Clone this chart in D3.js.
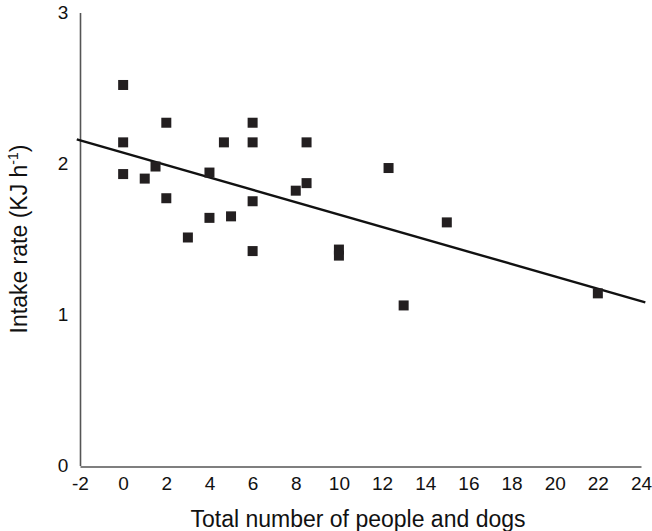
<!DOCTYPE html>
<html>
<head>
<meta charset="utf-8">
<script src="https://cdn.jsdelivr.net/npm/d3@7"></script>
<style>
  body { margin: 0; background: #fff; }
  svg { display: block; font-family: "Liberation Sans", Arial, sans-serif; }
</style>
</head>
<body>
<div id="chart"></div>
<script>
// observations
var peopleDogs = [0, 0, 0, 1, 1.5, 2, 2, 3, 4, 4, 4.67, 5, 6, 6, 6, 6, 8, 8.5, 8.5, 10, 10, 12.3, 13, 15, 22];
var intakeRate = [2.52, 2.14, 1.93, 1.90, 1.98, 2.27, 1.77, 1.51, 1.94, 1.64, 2.14, 1.65, 2.27, 2.14, 1.75, 1.42, 1.82, 1.87, 2.14, 1.43, 1.39, 1.97, 1.06, 1.61, 1.14];

// regression line end points
var fitX = [-2.15, 24.2];
var fitY = [2.16, 1.08];

var xTicks = [-2, 0, 2, 4, 6, 8, 10, 12, 14, 16, 18, 20, 22, 24];
var yTicks = [0, 1, 2, 3];

var svgWidth = 652, svgHeight = 531;
var margin = { top: 12.5, right: 11, bottom: 65.5, left: 80 };
var width = svgWidth - margin.left - margin.right;
var height = svgHeight - margin.top - margin.bottom;

var svg = d3.select("#chart").append("svg")
  .attr("width", svgWidth)
  .attr("height", svgHeight);

var chartGroup = svg.append("g")
  .attr("transform", `translate(${margin.left}, ${margin.top})`);

var x = d3.scaleLinear().domain([-2, 24]).range([0, width]);
var y = d3.scaleLinear().domain([0, 3]).range([height, 0]);

// axes (plain hyphen for negatives, integers only)
var xAxis = chartGroup.append("g")
  .attr("transform", `translate(0, ${height + 1})`)
  .call(d3.axisBottom(x).tickValues(xTicks).tickFormat(d => String(d)).tickSize(0).tickPadding(10));

var yAxis = chartGroup.append("g")
  .call(d3.axisLeft(y).tickValues(yTicks).tickFormat(d => String(d)).tickSize(0).tickPadding(8));

[xAxis, yAxis].forEach(function(a) {
  a.select(".domain").attr("stroke", "#555").attr("stroke-width", 1.6);
  a.selectAll("text").attr("font-size", 19).attr("fill", "#111")
    .attr("font-family", "'Liberation Sans', Arial, sans-serif");
});
yAxis.selectAll("text").attr("dx", "-0.2em");

// fit line
var fitLine = d3.line().x(d => x(d[0])).y(d => y(d[1]));
chartGroup.append("path")
  .datum(d3.zip(fitX, fitY))
  .attr("d", fitLine)
  .attr("fill", "none")
  .attr("stroke", "#111")
  .attr("stroke-width", 2.4);

// points
var size = 10;
chartGroup.selectAll("rect.pt")
  .data(d3.zip(peopleDogs, intakeRate))
  .enter().append("rect")
  .attr("class", "pt")
  .attr("x", d => x(d[0]) - size / 2)
  .attr("y", d => y(d[1]) - size / 2)
  .attr("width", size)
  .attr("height", size)
  .attr("fill", "#231f20");

// axis titles
svg.append("text")
  .attr("x", 358)
  .attr("y", 527)
  .attr("text-anchor", "middle")
  .attr("font-size", 23)
  .attr("fill", "#111")
  .text("Total number of people and dogs");

var yTitle = svg.append("text")
  .attr("transform", "translate(27, 239) rotate(-90)")
  .attr("text-anchor", "middle")
  .attr("font-size", 23)
  .attr("fill", "#111");
yTitle.append("tspan").text("Intake rate (KJ h");
yTitle.append("tspan").attr("font-size", 14).attr("dy", -9).text("-1");
yTitle.append("tspan").attr("dy", 9).text(")");
</script>
</body>
</html>
